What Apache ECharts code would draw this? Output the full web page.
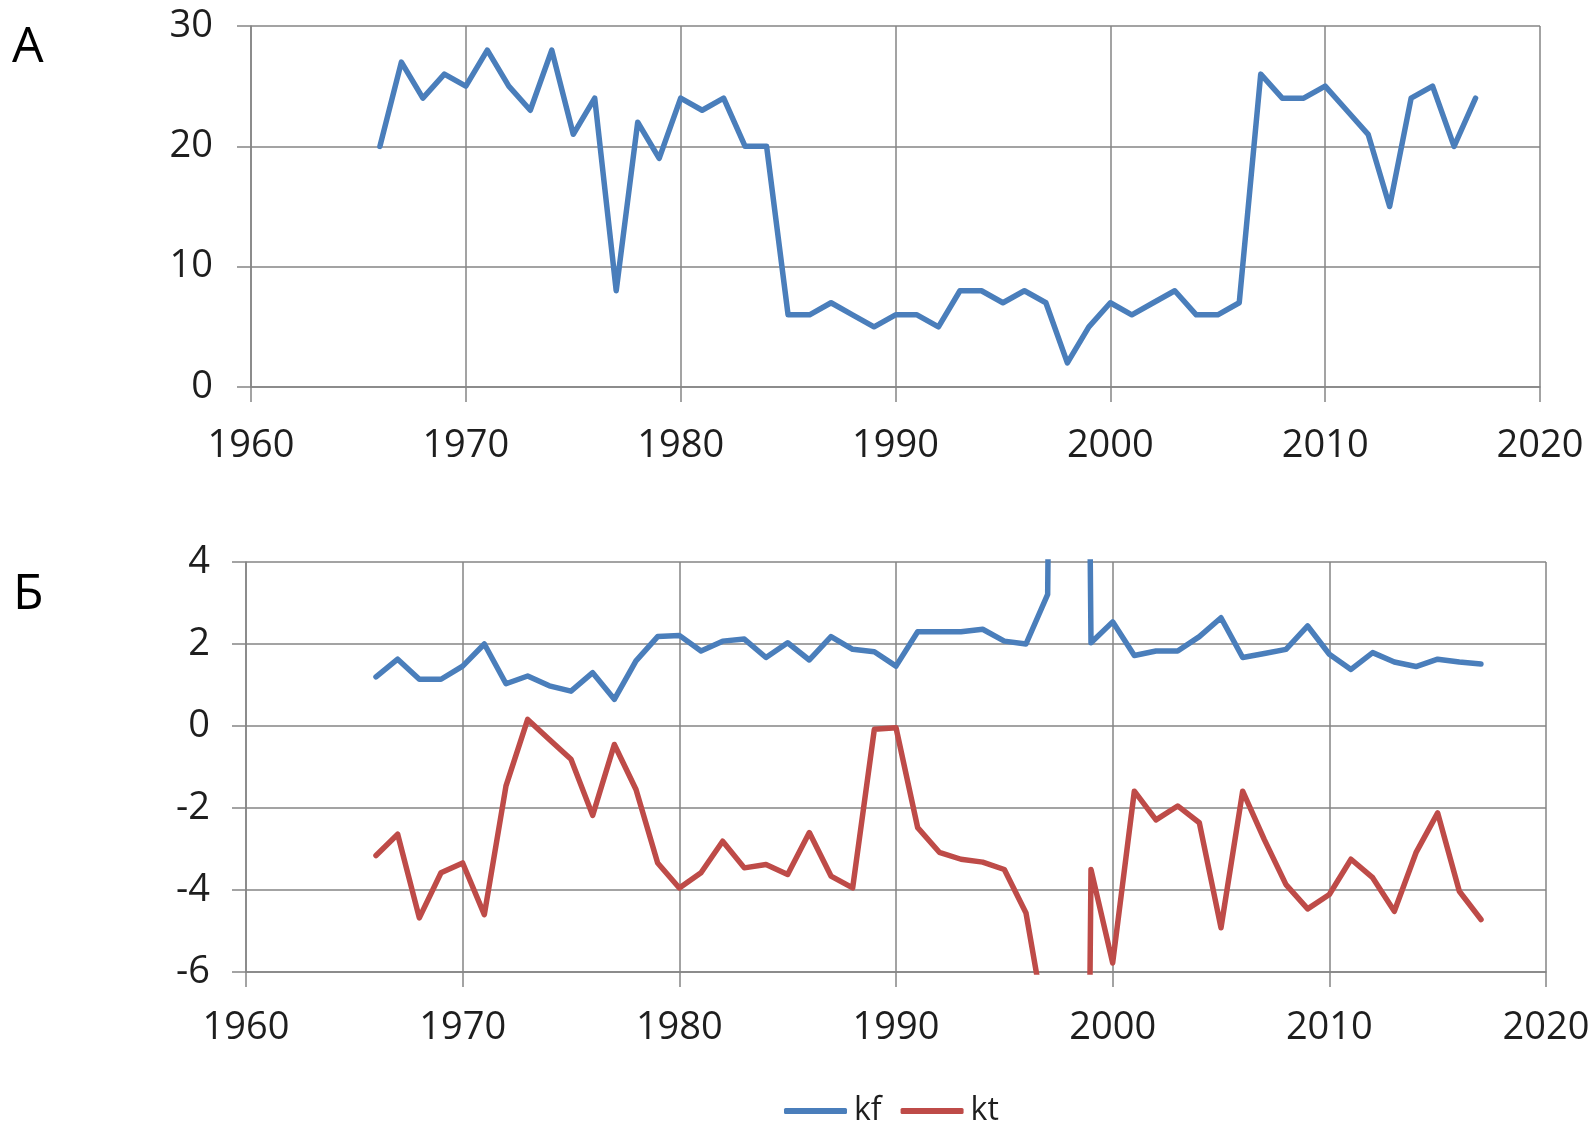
<!DOCTYPE html>
<html>
<head>
<meta charset="utf-8">
<script src="https://cdn.jsdelivr.net/npm/echarts@6/dist/echarts.min.js"></script>
<style>
  html, body { margin: 0; padding: 0; background: #ffffff; }
  #chart { width: 1592px; height: 1124px; }
</style>
</head>
<body>
<div id="chart"></div>
<script>
// Years of observation
const years = [
  1966, 1967, 1968, 1969, 1970, 1971, 1972, 1973, 1974, 1975,
  1976, 1977, 1978, 1979, 1980, 1981, 1982, 1983, 1984, 1985,
  1986, 1987, 1988, 1989, 1990, 1991, 1992, 1993, 1994, 1995,
  1996, 1997, 1998, 1999, 2000, 2001, 2002, 2003, 2004, 2005,
  2006, 2007, 2008, 2009, 2010, 2011, 2012, 2013, 2014, 2015,
  2016, 2017
];

// Panel А
const valuesA = [
  20, 27, 24, 26, 25, 28, 25, 23, 28, 21,
  24, 8, 22, 19, 24, 23, 24, 20, 20, 6,
  6, 7, 6, 5, 6, 6, 5, 8, 8, 7,
  8, 7, 2, 5, 7, 6, 7, 8, 6, 6,
  7, 26, 24, 24, 25, 23, 21, 15, 24, 25,
  20, 24
];

// Panel Б: kf
const kf = [
  1.2, 1.63, 1.14, 1.14, 1.46, 2.0, 1.03, 1.22, 0.98, 0.85,
  1.3, 0.65, 1.59, 2.18, 2.21, 1.83, 2.07, 2.12, 1.67, 2.03,
  1.61, 2.18, 1.87, 1.81, 1.46, 2.3, 2.3, 2.3, 2.36, 2.07,
  2.0, 3.21, 60, 2.03, 2.54, 1.72, 1.83, 1.83, 2.18, 2.64,
  1.67, 1.77, 1.87, 2.44, 1.75, 1.38, 1.79, 1.56, 1.45, 1.63,
  1.56, 1.51
];

// Panel Б: kt
const kt = [
  -3.16, -2.64, -4.68, -3.58, -3.34, -4.6, -1.46, 0.16, -0.33, -0.81,
  -2.18, -0.45, -1.55, -3.34, -3.95, -3.58, -2.81, -3.46, -3.38, -3.62,
  -2.6, -3.66, -3.95, -0.08, -0.04, -2.48, -3.08, -3.25, -3.32, -3.5,
  -4.56, -7.6, -60, -3.5, -5.78, -1.59, -2.29, -1.95, -2.36, -4.92,
  -1.59, -2.77, -3.87, -4.46, -4.11, -3.25, -3.7, -4.52, -3.09, -2.12,
  -4.03, -4.72
];

const xTicks = { min: 1960, max: 2020, step: 10 };
const yTicksA = { min: 0, max: 30, step: 10 };
const yTicksB = { min: -6, max: 4, step: 2 };

const BLUE = '#4a7ebb';
const RED = '#be4b48';
const GRID_GRAY = '#858585';
const FONT = '"Open Sans", "Noto Sans", sans-serif';
const TEXT = '#1e1e1e';

const pairs = (vals) => years.map((y, i) => [y, vals[i]]);

function xAxis(gridIndex, margin) {
  return {
    type: 'value',
    gridIndex,
    min: xTicks.min,
    max: xTicks.max,
    interval: xTicks.step,
    axisLine: { show: true, onZero: false, lineStyle: { color: GRID_GRAY, width: 1.5 } },
    axisTick: { show: true, length: 15, lineStyle: { color: GRID_GRAY, width: 1.5 } },
    splitLine: { show: true, lineStyle: { color: GRID_GRAY, width: 1.5 } },
    axisLabel: {
      margin,
      fontFamily: FONT,
      fontSize: 38,
      color: TEXT,
      formatter: (v) => String(v)
    }
  };
}

function yAxis(gridIndex, t, margin) {
  return {
    type: 'value',
    gridIndex,
    min: t.min,
    max: t.max,
    interval: t.step,
    axisLine: { show: true, lineStyle: { color: GRID_GRAY, width: 1.5 } },
    axisTick: { show: true, length: 14, lineStyle: { color: GRID_GRAY, width: 1.5 } },
    splitLine: { show: true, lineStyle: { color: GRID_GRAY, width: 1.5 } },
    axisLabel: {
      margin,
      fontFamily: FONT,
      fontSize: 38,
      color: TEXT,
      formatter: (v) => String(v)
    }
  };
}

const lineSeries = (name, vals, color, axisIndex) => ({
  name,
  type: 'line',
  xAxisIndex: axisIndex,
  yAxisIndex: axisIndex,
  data: pairs(vals),
  symbol: 'none',
  showSymbol: false,
  clip: true,
  animation: false,
  lineStyle: { color, width: 5.5, join: 'round', cap: 'round' },
  itemStyle: { color }
});

const chart = echarts.init(document.getElementById('chart'), null, { renderer: 'canvas' });

chart.setOption({
  backgroundColor: '#ffffff',
  animation: false,
  grid: [
    { left: 251, right: 52, top: 26, height: 361, outerBoundsMode: 'none', containLabel: false },
    { left: 246, right: 46, top: 562, height: 410, outerBoundsMode: 'none', containLabel: false }
  ],
  xAxis: [xAxis(0, 40), xAxis(1, 37)],
  yAxis: [yAxis(0, yTicksA, 38), yAxis(1, yTicksB, 36)],
  legend: {
    data: ['kf', 'kt'],
    left: 779,
    top: 1090,
    icon: 'roundRect',
    itemWidth: 63,
    itemHeight: 6,
    itemGap: 19,
    textStyle: { fontFamily: FONT, fontSize: 32, color: TEXT, padding: [0, 0, 0, 2] }
  },
  graphic: [
    {
      type: 'text', left: 12, top: 23,
      style: { text: 'А', font: '50px ' + FONT, fill: '#000000' }
    },
    {
      type: 'text', left: 13, top: 570,
      style: { text: 'Б', font: '50px ' + FONT, fill: '#000000' }
    }
  ],
  series: [
    lineSeries('А', valuesA, BLUE, 0),
    lineSeries('kf', kf, BLUE, 1),
    lineSeries('kt', kt, RED, 1)
  ]
});
</script>
</body>
</html>
